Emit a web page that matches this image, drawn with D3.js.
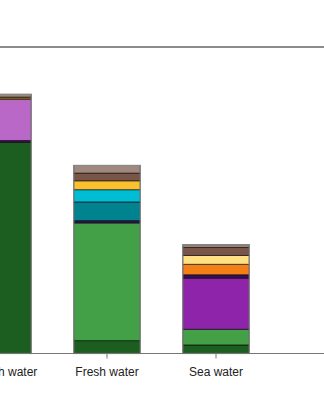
<!DOCTYPE html>
<html>
<head>
<meta charset="utf-8">
<script src="https://cdn.jsdelivr.net/npm/d3@7"></script>
<style>
  body { margin: 0; background: #fff; }
  svg { display: block; font-family: "Liberation Sans", Arial, sans-serif; }
</style>
</head>
<body>
<div id="chart"></div>
<script>
// categories along the x axis (first one is cut off at the left edge)
const categories = ['Brackish water', 'Fresh water', 'Sea water'];

// stack order, bottom to top
const seriesNames = ['s1', 's2', 's3', 's4', 's5', 's6', 's7', 's8', 's9', 's10', 's11', 's12', 's13'];
const seriesColors = ['#1b5e20', '#43a047', '#8e24aa', '#3b0f5c', '#ba68c8', '#00838f', '#00bcd4',
                      '#f57f17', '#ffe082', '#fbc02d', '#9e7c0c', '#795548', '#a1887f'];

// one value per category for every series
const seriesValues = [
   [68.9, 4.2, 2.8],
   [0, 38.4, 5.1],
   [0, 0, 16.7],
   [0.6, 0.75, 1.1],
   [13.5, 0, 0],
   [0, 6.1, 0],
   [0, 4.0, 0],
   [0, 0, 3.4],
   [0, 0, 2.9],
   [0, 2.9, 0],
   [0.65, 0, 0],
   [0, 2.5, 2.6],
   [0.9, 2.5, 0.9]
];

const yMax = 100;

const width = 324, height = 400;
const margin = { top: 47, bottom: 46.5 };
const plotH = height - margin.top - margin.bottom;

const svg = d3.select('#chart').append('svg')
   .attr('width', width)
   .attr('height', height);

const rows = categories.map((c, i) => {
   const r = { category: c };
   seriesNames.forEach((s, j) => { r[s] = seriesValues[j][i]; });
   return r;
});

const stack = d3.stack().keys(seriesNames);
const stacked = stack(rows);

const x = d3.scaleBand()
   .domain(categories)
   .range([-56.5, 270.5])
   .paddingInner(0.39)
   .paddingOuter(0.195);

const y = d3.scaleLinear()
   .domain([0, yMax])
   .range([margin.top + plotH, margin.top]);

const color = d3.scaleOrdinal().domain(seriesNames).range(seriesColors);

// top frame line
svg.append('line')
   .attr('x1', 0).attr('x2', width)
   .attr('y1', y(yMax)).attr('y2', y(yMax))
   .attr('stroke', '#666')
   .attr('stroke-width', 1.3);

const bars = svg.append('g');

bars.selectAll('g.series')
   .data(stacked)
   .join('g')
   .attr('class', 'series')
   .attr('fill', d => color(d.key))
   .selectAll('rect')
   .data(d => d.filter(p => p[1] - p[0] > 0))
   .join('rect')
   .attr('x', d => x(d.data.category))
   .attr('width', x.bandwidth())
   .attr('y', d => y(d[1]))
   .attr('height', d => y(d[0]) - y(d[1]))
   .attr('stroke', 'rgba(0,0,0,0.6)')
   .attr('stroke-width', 1);

// outer outline of each bar
const totals = rows.map(r => d3.sum(seriesNames, s => r[s]));
bars.selectAll('rect.outline')
   .data(categories)
   .join('rect')
   .attr('class', 'outline')
   .attr('x', d => x(d))
   .attr('width', x.bandwidth())
   .attr('y', (d, i) => y(totals[i]))
   .attr('height', (d, i) => y(0) - y(totals[i]))
   .attr('fill', 'none')
   .attr('stroke', '#888')
   .attr('stroke-width', 1.2);

// x axis
const xAxis = d3.axisBottom(x).tickSize(5).tickPadding(9);
const xAxisG = svg.append('g')
   .attr('transform', `translate(0,${y(0)})`)
   .call(xAxis);
xAxisG.select('.domain').remove();
xAxisG.selectAll('.tick line').attr('stroke', '#777');
xAxisG.selectAll('.tick text')
   .attr('fill', '#222')
   .style('font-size', '12px')
   .style('font-family', '"Liberation Sans", Arial, sans-serif');

svg.append('line')
   .attr('x1', 0).attr('x2', width)
   .attr('y1', y(0)).attr('y2', y(0))
   .attr('stroke', '#777')
   .attr('stroke-width', 1);
</script>
</body>
</html>
